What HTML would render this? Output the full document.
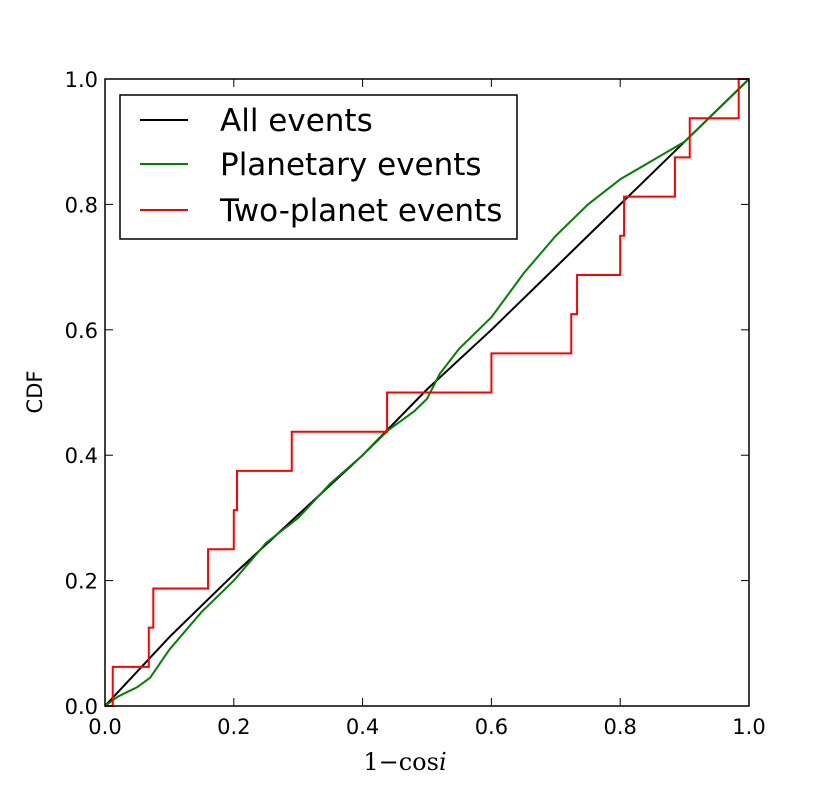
<!DOCTYPE html>
<html><head><meta charset="utf-8"><style>
body{margin:0;background:#fff}
svg{display:block;font-family:"DejaVu Sans","Liberation Sans",sans-serif}
</style></head><body>
<svg id="chart" width="830" height="785"></svg>
<script>
const xTicks=[0.0,0.2,0.4,0.6,0.8,1.0];
const yTicks=[0.0,0.2,0.4,0.6,0.8,1.0];
const tickLabels=["0.0","0.2","0.4","0.6","0.8","1.0"];
const allX=[0,0.05,0.1,0.2,0.3,0.4,0.5,0.6,0.7,0.8,0.9,1];
const allY=[0,0.055,0.11,0.21,0.305,0.4,0.505,0.6,0.7,0.8,0.9,1];
const planX=[0,0.02,0.05,0.07,0.1,0.15,0.2,0.25,0.3,0.35,0.4,0.44,0.48,0.5,0.52,0.55,0.6,0.65,0.7,0.75,0.8,0.85,0.9,0.95,1];
const planY=[0,0.015,0.03,0.045,0.09,0.15,0.2,0.26,0.3,0.355,0.4,0.44,0.47,0.49,0.53,0.57,0.62,0.69,0.75,0.8,0.84,0.87,0.9,0.95,1];
const twoX=[0.012,0.068,0.075,0.16,0.2,0.205,0.29,0.438,0.6,0.724,0.733,0.8,0.806,0.885,0.908,0.984];
const L=105,R=749,T=79,B=706;
const sx=v=>L+v*(R-L), sy=v=>B-v*(B-T);
const svg=document.getElementById('chart');
const NS="http://www.w3.org/2000/svg";
function mk(tag,attrs,parent){const e=document.createElementNS(NS,tag);for(const k in attrs)e.setAttribute(k,attrs[k]);(parent||svg).appendChild(e);return e;}
function line(xs,ys,color,name){
  const p=mk('polyline',{points:xs.map((x,i)=>sx(x)+','+sy(ys[i])).join(' '),fill:'none',stroke:color,'stroke-width':2});
  
  
}
line(allX,allY,'#000','all-events-line');
line(planX,planY,'#008000','planetary-events-line');
let pts=[[0,0]],n=twoX.length;
twoX.forEach((x,i)=>{pts.push([x,i/n]);pts.push([x,(i+1)/n]);});
pts.push([1,1]);
const rp=mk('polyline',{points:pts.map(p=>sx(p[0])+','+sy(p[1])).join(' '),fill:'none',stroke:'#ff0000','stroke-width':2});


const fr=mk('rect',{x:L,y:T,width:R-L,height:B-T,fill:'none',stroke:'#000','stroke-width':1.5});


xTicks.forEach((v,i)=>{
  const x=sx(v);
  mk('line',{x1:x,y1:B,x2:x,y2:B-8,stroke:'#000'});
  mk('line',{x1:x,y1:T,x2:x,y2:T+8,stroke:'#000'});
  const t=mk('text',{x:x,y:B+28,'font-size':21,'text-anchor':'middle'});t.textContent=tickLabels[i];
  
  
});
yTicks.forEach((v,i)=>{
  const y=sy(v);
  mk('line',{x1:L,y1:y,x2:L+8,y2:y,stroke:'#000'});
  mk('line',{x1:R,y1:y,x2:R-8,y2:y,stroke:'#000'});
  const t=mk('text',{x:L-7,y:y+8,'font-size':21,'text-anchor':'end'});t.textContent=tickLabels[i];
  
  
});
</script>
<svg width="830" height="785" style="position:absolute;left:0;top:0">
<text x="42" y="392" font-size="21" text-anchor="middle" transform="rotate(-90 42 392)" font-family="DejaVu Sans,sans-serif">CDF</text>
<text x="405" y="770" font-size="24" text-anchor="middle" font-family="DejaVu Serif,serif">1−cos<tspan font-style="italic">i</tspan></text>
<g font-family="DejaVu Sans,sans-serif" font-size="31">
<rect x="120" y="95" width="397" height="144" fill="#fff" stroke="#000" stroke-width="1.5"/>
<line x1="140" y1="120" x2="188" y2="120" stroke="#000" stroke-width="2"/>
<text x="220" y="131">All events</text>
<line x1="140" y1="164" x2="188" y2="164" stroke="#008000" stroke-width="2"/>
<text x="220" y="175">Planetary events</text>
<line x1="140" y1="210" x2="188" y2="210" stroke="#ff0000" stroke-width="2"/>
<text x="220" y="221">Two-planet events</text>
</g>
</svg>
</body></html>
